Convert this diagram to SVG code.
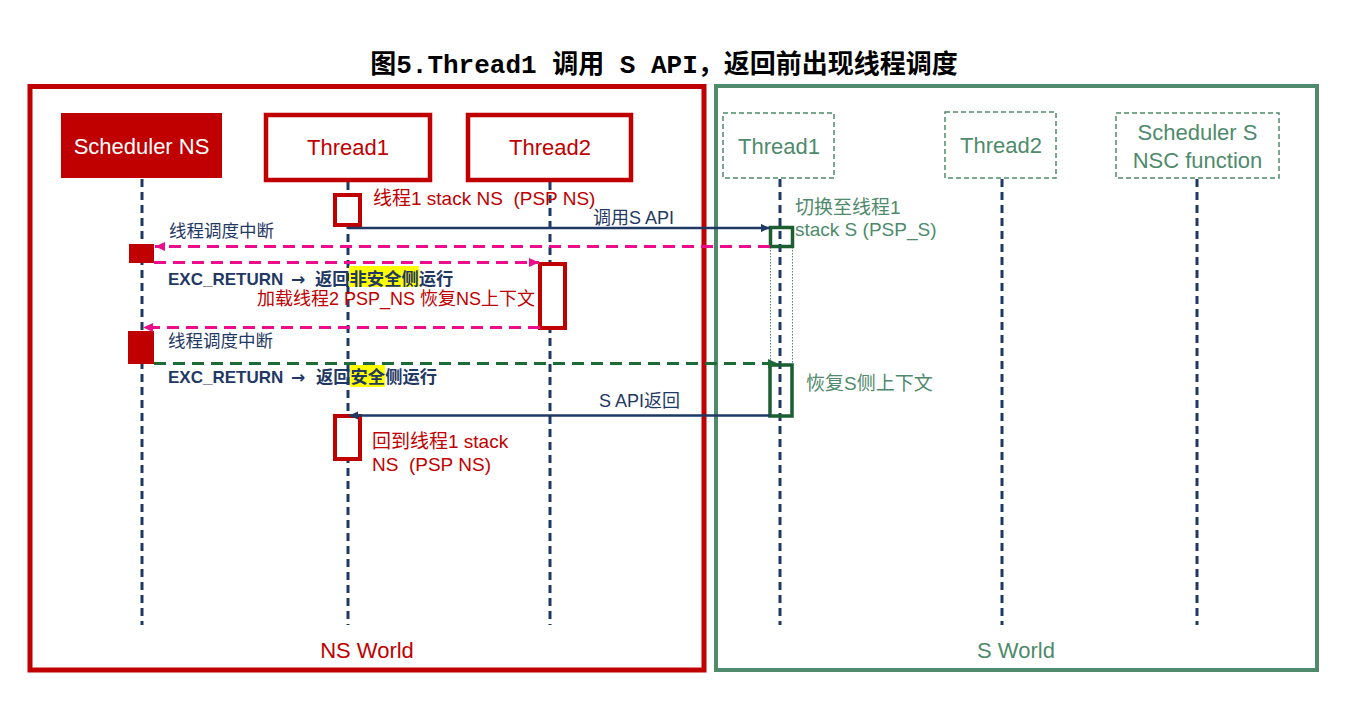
<svg xmlns="http://www.w3.org/2000/svg" width="1355" height="701" viewBox="0 0 1355 701">
<defs>
<style>
text{font-family:"Liberation Sans","Noto Sans CJK SC",sans-serif;white-space:pre}
.title{font-family:"Liberation Mono","Noto Sans CJK SC",monospace;font-size:26px;font-weight:bold;fill:#000}
.life{stroke:#1F3864;stroke-width:3;stroke-dasharray:8 5;fill:none}
.red{fill:#C00000}
.green{fill:#4E8A6B}
.navy{fill:#1F3864}
.hd{font-size:22px;text-anchor:middle}
.lbl{font-size:19px}
.bold{font-size:17px;font-weight:bold;fill:#1F3864}
.cj{font-size:17.3px}
.arr{font-family:"DejaVu Sans",sans-serif;font-weight:bold}
.act-r{fill:#fff;stroke:#C00000;stroke-width:4}
.act-g{fill:none;stroke:#1A5E32;stroke-width:3.5}
.sbox{fill:#fff;stroke:#4E8A6B;stroke-width:1.5;stroke-dasharray:5 3}
.msg-n{stroke:#1F3864;stroke-width:2.5;fill:none}
.msg-p{stroke:#EC0C8C;stroke-width:3;stroke-dasharray:12 7;fill:none}
.msg-g{stroke:#1E6B3A;stroke-width:3;stroke-dasharray:12 7;fill:none}
.hl{fill:#FFFF00}
</style>
<marker id="ah-n" viewBox="0 0 10 10" refX="10" refY="5" markerWidth="10" markerHeight="9" markerUnits="userSpaceOnUse" orient="auto"><path d="M0,0.5 L10,5 L0,9.5 z" fill="#1F3864"/></marker>
<marker id="ah-p" viewBox="0 0 10 10" refX="10" refY="5" markerWidth="11" markerHeight="10" markerUnits="userSpaceOnUse" orient="auto"><path d="M0,0.5 L10,5 L0,9.5 z" fill="#EC0C8C"/></marker>
<marker id="ah-g" viewBox="0 0 10 10" refX="10" refY="5" markerWidth="11" markerHeight="10" markerUnits="userSpaceOnUse" orient="auto"><path d="M0,0.5 L10,5 L0,9.5 z" fill="#1E6B3A"/></marker>
</defs>
<rect width="1355" height="701" fill="#fff"/>
<text class="title" x="664" y="73" text-anchor="middle">图5.Thread1 调用 S API，返回前出现线程调度</text>

<g id="ns-world">
<rect x="30" y="86.5" width="674" height="583.5" fill="none" stroke="#C00000" stroke-width="5"/>
<text class="red" x="367" y="658" font-size="22" text-anchor="middle">NS World</text>
</g>
<g id="s-world">
<rect x="716" y="86" width="601" height="584" fill="none" stroke="#4E8A6B" stroke-width="4"/>
<text class="green" x="1016" y="658" font-size="22" text-anchor="middle">S World</text>
</g>

<g id="lifelines">
<line class="life" x1="142" y1="179" x2="142" y2="625"/>
<line class="life" x1="348" y1="182" x2="348" y2="625"/>
<line class="life" x1="550" y1="182" x2="550" y2="625"/>
<line class="life" x1="780" y1="179" x2="780" y2="625"/>
<line class="life" x1="1002" y1="179" x2="1002" y2="625"/>
<line class="life" x1="1197" y1="179" x2="1197" y2="625"/>
</g>

<g id="scheduler-ns">
<rect x="61" y="113" width="161" height="65" fill="#C00000"/>
<text class="hd" x="141.5" y="154" fill="#fff">Scheduler NS</text>
</g>
<g id="thread1-ns">
<rect x="266" y="115" width="164" height="65" fill="#fff" stroke="#C00000" stroke-width="4.5"/>
<text class="hd red" x="348" y="155">Thread1</text>
</g>
<g id="thread2-ns">
<rect x="468" y="115" width="163" height="65" fill="#fff" stroke="#C00000" stroke-width="4.5"/>
<text class="hd red" x="550" y="155">Thread2</text>
</g>
<g id="thread1-s">
<rect class="sbox" x="723" y="113" width="111" height="65"/>
<text class="hd green" x="779" y="154">Thread1</text>
</g>
<g id="thread2-s">
<rect class="sbox" x="945" y="112" width="111" height="66"/>
<text class="hd green" x="1001" y="153">Thread2</text>
</g>
<g id="scheduler-s">
<rect class="sbox" x="1116" y="113" width="163" height="65"/>
<text class="hd green" x="1197.5" y="140">Scheduler S</text>
<text class="hd green" x="1197.5" y="168">NSC function</text>
</g>

<g id="activations">
<rect class="act-r" x="335" y="195" width="25" height="30"/>
<rect x="129" y="244" width="25" height="19" fill="#C00000"/>
<rect class="act-r" x="540" y="264" width="25" height="64"/>
<rect x="128" y="331" width="26" height="33" fill="#C00000"/>
<rect class="act-r" x="335" y="416" width="25" height="43"/>
<line x1="770.5" y1="247" x2="770.5" y2="364" stroke="#4E8A6B" stroke-width="1" stroke-dasharray="1.5 1.5"/>
<line x1="792.5" y1="247" x2="792.5" y2="364" stroke="#4E8A6B" stroke-width="1" stroke-dasharray="1.5 1.5"/>
<rect class="act-g" x="770.5" y="227.5" width="22" height="19"/>
<rect class="act-g" x="770" y="365" width="22" height="51"/>
</g>

<g id="connectors">
<line class="msg-n" x1="348" y1="228" x2="770" y2="228" marker-end="url(#ah-n)"/>
<line class="msg-p" x1="770" y1="246.5" x2="155" y2="246.5" marker-end="url(#ah-p)"/>
<line class="msg-p" x1="154" y1="262.5" x2="539" y2="262.5" marker-end="url(#ah-p)"/>
<line class="msg-p" x1="540" y1="327.5" x2="143" y2="327.5" marker-end="url(#ah-p)"/>
<line class="msg-g" x1="154" y1="363.5" x2="778" y2="363.5" marker-end="url(#ah-g)"/>
<line class="msg-n" x1="770" y1="415.5" x2="349" y2="415.5" marker-end="url(#ah-n)"/>
</g>

<g id="labels">
<text class="lbl red" x="373" y="205">线程1 stack NS  (PSP NS)</text>
<text class="navy" x="593" y="224" font-size="18">调用S API</text>
<text class="lbl green" x="795" y="214">切换至线程1</text>
<text class="lbl green" x="795" y="236">stack S (PSP_S)</text>
<text class="navy" x="169" y="237" font-size="17.5">线程调度中断</text>
<rect class="hl" x="349" y="266" width="70" height="21"/>
<text class="bold" y="285"><tspan x="168">EXC_RETURN</tspan><tspan class="arr" x="291">→</tspan><tspan class="cj" x="315">返回非安全侧运行</tspan></text>
<text class="red" x="257" y="305" font-size="18">加载线程2 PSP_NS 恢复NS上下文</text>
<text class="navy" x="168" y="347" font-size="17.5">线程调度中断</text>
<rect class="hl" x="350" y="365" width="35" height="22"/>
<text class="bold" y="383"><tspan x="168">EXC_RETURN</tspan><tspan class="arr" x="291">→</tspan><tspan class="cj" x="316">返回安全侧运行</tspan></text>
<text class="lbl green" x="806" y="390">恢复S侧上下文</text>
<text class="navy" x="599" y="407" font-size="18">S API返回</text>
<text class="lbl red" x="372" y="448">回到线程1 stack</text>
<text class="lbl red" x="372" y="471">NS  (PSP NS)</text>
</g>
</svg>
